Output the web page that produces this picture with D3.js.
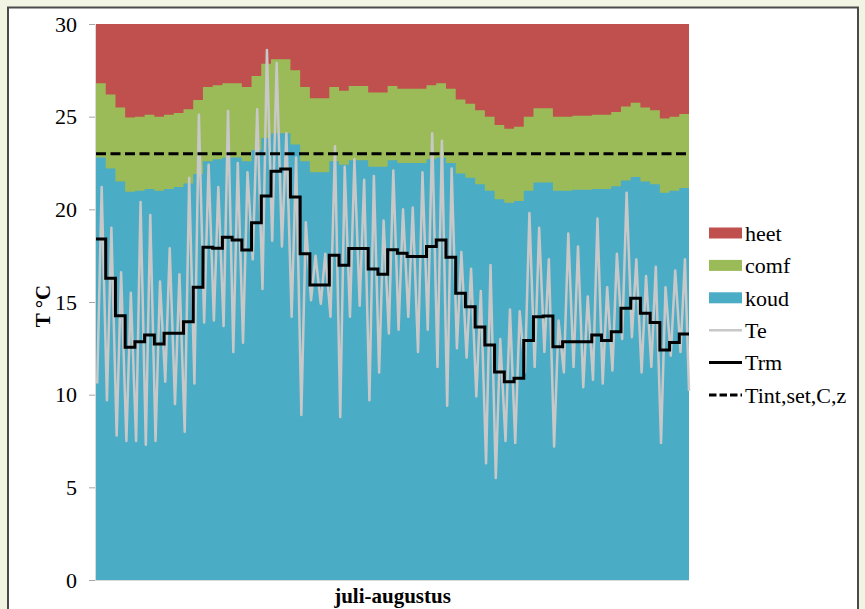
<!DOCTYPE html>
<html>
<head>
<meta charset="utf-8">
<script src="https://cdn.jsdelivr.net/npm/d3@7"></script>
<style>
  body { margin: 0; background: #f1f4e2; }
  svg { display: block; }
</style>
</head>
<body>
<svg id="chart" width="865" height="609"></svg>
<script>
// Daily comfort bands for July-August (°C): stacked koud / comf / heet
const koud = [22.8, 22.2, 21.5, 20.95, 21.0, 21.1, 21.0, 21.1, 21.2, 21.4,
              21.9, 22.6, 22.7, 22.8, 22.8, 22.6, 23.2, 23.85, 24.1, 24.1,
              23.5, 22.6, 22.0, 22.0, 22.6, 22.4, 22.65, 22.65, 22.3, 22.3,
              22.65, 22.5, 22.5, 22.5, 22.7, 22.8, 22.5, 21.93, 21.7, 21.35,
              21.0, 20.55, 20.35, 20.45, 21.0, 21.45, 21.45, 21.0, 21.0, 21.05,
              21.05, 21.1, 21.1, 21.25, 21.55, 21.75, 21.5, 21.35, 20.9, 21.0, 21.15];
const comf = [4, 4, 4, 4, 4, 4, 4, 4, 4, 4,
              4, 4, 4, 4, 4, 4, 4, 4, 4, 4,
              4, 4, 4, 4, 4, 4, 4, 4, 4, 4,
              4, 4, 4, 4, 4, 4, 4, 4, 4, 4,
              4, 4, 4, 4, 4, 4, 4, 4, 4, 4,
              4, 4, 4, 4, 4, 4, 4, 4, 4, 4, 4];
const heet = [3.2, 3.8, 4.5, 5.05, 5.0, 4.9, 5.0, 4.9, 4.8, 4.6,
              4.1, 3.4, 3.3, 3.2, 3.2, 3.4, 2.8, 2.15, 1.9, 1.9,
              2.5, 3.4, 4.0, 4.0, 3.4, 3.6, 3.35, 3.35, 3.7, 3.7,
              3.35, 3.5, 3.5, 3.5, 3.3, 3.2, 3.5, 4.07, 4.3, 4.65,
              5.0, 5.45, 5.65, 5.55, 5.0, 4.55, 4.55, 5.0, 5.0, 4.95,
              4.95, 4.9, 4.9, 4.75, 4.45, 4.25, 4.5, 4.65, 5.1, 5.0, 4.85];

// Running mean outdoor temperature, one value per day
const trm = [18.4, 16.28, 14.26, 12.56, 12.86, 13.22, 12.74, 13.31, 13.31, 13.94,
             15.8, 17.95, 17.9, 18.49, 18.35, 17.81, 19.28, 20.72, 22.06, 22.18,
             20.66, 17.6, 15.92, 15.92, 17.52, 16.98, 17.88, 17.88, 16.78, 16.5,
             17.82, 17.63, 17.45, 17.45, 17.99, 18.35, 17.41, 15.47, 14.75, 13.65,
             12.68, 11.22, 10.7, 10.88, 12.92, 14.21, 14.25, 12.59, 12.86, 12.86,
             12.86, 13.22, 12.92, 13.4, 14.66, 15.2, 14.39, 13.89, 12.41, 12.81, 13.28];

// Outdoor temperature Te: daily minimum (early morning) and maximum (afternoon)
const teMin = [10.6, 9.7, 7.8, 7.5, 7.5, 7.3, 7.5, 10.7, 9.5, 8.0,
               10.6, 13.9, 14.0, 13.7, 12.3, 12.8, 17.3, 15.7, 18.3, 18.0,
               14.2, 8.9, 15.1, 14.9, 14.2, 8.8, 14.2, 14.8, 9.7, 11.2,
               13.3, 13.5, 14.2, 12.3, 13.5, 11.5, 9.4, 12.5, 12.0, 9.9,
               6.3, 5.5, 7.5, 7.4, 11.2, 11.5, 12.3, 7.2, 11.2, 11.5,
               10.4, 10.8, 10.6, 11.3, 13.0, 13.1, 11.2, 11.5, 7.4, 12.1, 12.3];
const teMax = [21.2, 19.0, 16.6, 15.5, 20.4, 19.7, 16.1, 17.9, 16.5, 21.7,
               25.1, 22.4, 21.2, 25.3, 22.5, 22.0, 25.4, 28.6, 27.9, 24.1,
               22.8, 19.3, 17.5, 17.6, 23.4, 22.3, 22.7, 21.6, 21.8, 19.4,
               22.1, 20.0, 20.1, 22.0, 24.1, 23.7, 22.2, 17.7, 16.8, 15.6,
               17.0, 13.0, 14.6, 14.5, 19.8, 19.0, 17.3, 14.0, 18.7, 18.0,
               15.3, 19.5, 15.8, 17.6, 20.9, 17.3, 16.4, 16.9, 15.8, 16.7, 17.3];
const teLast = 10.2;           // last reading at the end of August
const teMinHour = 3;           // hour of the daily minimum
const teMaxHour = 14;          // hour of the daily maximum

// Indoor set-point
const tintSetCz = 23;

const yTicks = [0, 5, 10, 15, 20, 25, 30];
const legendItems = ["heet", "comf", "koud", "Te", "Trm", "Tint,set,C,z"];
const xTitle = "juli-augustus";
const yTitle = "T °C";

const colors = { heet: "#c0504d", comf: "#9bbb59", koud: "#4bacc6", Te: "#c8c8c8", Trm: "#000000" };
const serif = "'Liberation Serif', 'Times New Roman', serif";

const nDays = koud.length;
const svg = d3.select("#chart");

// Panel
svg.append("rect").attr("width", 865).attr("height", 609).attr("fill", "#f1f4e2");
svg.append("rect").attr("x", 8).attr("y", 7.5).attr("width", 850).attr("height", 640)
  .attr("fill", "#ffffff").attr("stroke", "#4a4a4a").attr("stroke-width", 2);

const x = d3.scaleLinear().domain([0, nDays]).range([96, 689]);
const y = d3.scaleLinear().domain([0, 30]).range([580, 24]);

// Stacked bands, each drawn from the baseline so neighbouring fills leave no seams
const rows = koud.map((k, i) => ({ day: i, koud: k, comf: comf[i], heet: heet[i] }));
const stacked = d3.stack().keys(["koud", "comf", "heet"])(rows);
const band = d3.area().curve(d3.curveStepAfter)
  .x(p => x(p.day)).y0(y(0)).y1(p => y(p.hi));
stacked.slice().reverse().forEach(layer => {
  const pts = layer.map((s, i) => ({ day: i, hi: s[1] }));
  pts.push({ day: nDays, hi: pts[pts.length - 1].hi });
  svg.append("path").attr("d", band(pts)).attr("fill", colors[layer.key]);
});

// Axes
const gy = svg.append("g").attr("transform", "translate(95,0)")
  .call(d3.axisLeft(y).tickValues(yTicks).tickSize(6).tickSizeOuter(0).tickPadding(12));
gy.select(".domain").attr("stroke", "#d9d9d9");
gy.selectAll(".tick line").attr("stroke", "#a6a6a6");
gy.selectAll(".tick text").attr("font-family", serif).attr("font-size", 22).attr("fill", "#000");

svg.append("line").attr("x1", 95).attr("x2", 689).attr("y1", 580.5).attr("y2", 580.5)
  .attr("stroke", "#d9d9d9");

// Te
const tePts = [];
teMin.forEach((v, i) => {
  tePts.push({ t: i + teMinHour / 24, v: v });
  tePts.push({ t: i + teMaxHour / 24, v: teMax[i] });
});
tePts.push({ t: nDays, v: teLast });
svg.append("path")
  .attr("d", d3.line().x(p => x(p.t)).y(p => y(p.v))(tePts))
  .attr("fill", "none").attr("stroke", colors.Te).attr("stroke-width", 2.5)
  .attr("stroke-linejoin", "round");

// Trm
const trmPts = trm.map((v, i) => ({ day: i, v: v }));
trmPts.push({ day: nDays, v: trm[nDays - 1] });
svg.append("path")
  .attr("d", d3.line().curve(d3.curveStepAfter).x(p => x(p.day)).y(p => y(p.v))(trmPts))
  .attr("fill", "none").attr("stroke", colors.Trm).attr("stroke-width", 3);

// Tint,set,C,z
svg.append("line")
  .attr("x1", x(0)).attr("x2", x(nDays)).attr("y1", y(tintSetCz)).attr("y2", y(tintSetCz))
  .attr("stroke", "#000").attr("stroke-width", 3).attr("stroke-dasharray", "10,4.5");

// Axis titles
svg.append("text").attr("transform", "translate(50,306) rotate(-90)")
  .attr("text-anchor", "middle").attr("font-family", serif).attr("font-weight", "bold")
  .attr("font-size", 21).text(yTitle);
svg.append("text").attr("x", (x(0) + x(nDays)) / 2).attr("y", 603)
  .attr("text-anchor", "middle").attr("font-family", serif).attr("font-weight", "bold")
  .attr("font-size", 21).text(xTitle);

// Legend
const lg = svg.append("g");
legendItems.forEach((name, i) => {
  const cy = 233 + i * 32.4;
  if (name === "heet" || name === "comf" || name === "koud") {
    lg.append("rect").attr("x", 709).attr("y", cy - 5.5).attr("width", 33).attr("height", 11)
      .attr("fill", colors[name]);
  } else if (name === "Te" || name === "Trm") {
    lg.append("line").attr("x1", 709).attr("x2", 742).attr("y1", cy).attr("y2", cy)
      .attr("stroke", colors[name]).attr("stroke-width", name === "Te" ? 2.5 : 3);
  } else {
    lg.append("line").attr("x1", 709).attr("x2", 742).attr("y1", cy).attr("y2", cy)
      .attr("stroke", "#000").attr("stroke-width", 3).attr("stroke-dasharray", "7.5,3");
  }
  lg.append("text").attr("x", 745).attr("y", cy).attr("dy", "0.35em")
    .attr("font-family", serif).attr("font-size", 22).attr("fill", "#000").text(name);
});
</script>
</body>
</html>
